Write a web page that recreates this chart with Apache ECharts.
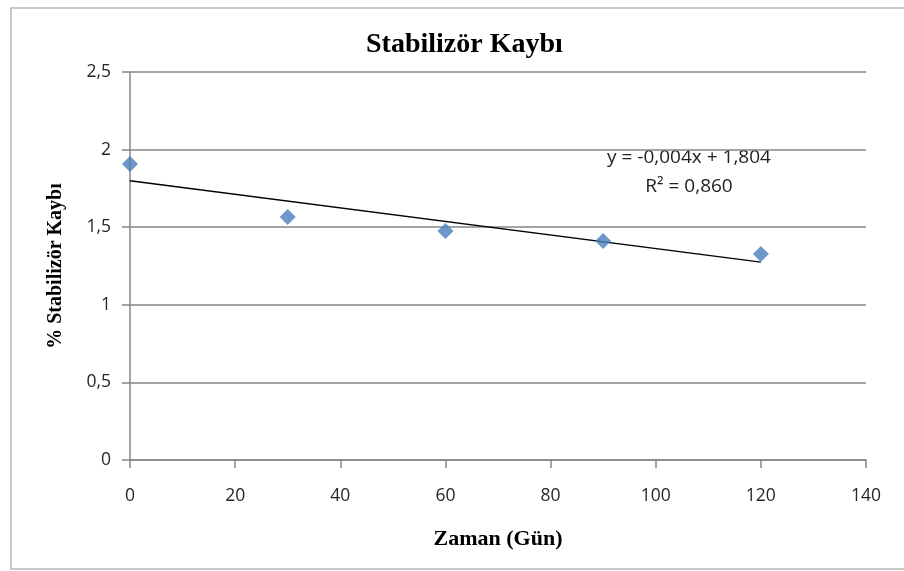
<!DOCTYPE html>
<html>
<head>
<meta charset="utf-8">
<script src="https://cdn.jsdelivr.net/npm/echarts@6/dist/echarts.min.js"></script>
<style>
html,body{margin:0;padding:0;background:#fff;}
#c{width:904px;height:571px;}
</style>
</head>
<body>
<div id="c"></div>
<script>
// Data
const days = [0, 30, 60, 90, 120];
const loss = [1.907, 1.566, 1.475, 1.411, 1.327];
// Trend line end points as drawn in the picture
const trendDays = [0, 120];
const trendLoss = [1.80, 1.275];
const xTicks = [0, 20, 40, 60, 80, 100, 120, 140];
const yTicks = [0, 0.5, 1, 1.5, 2, 2.5];
const titleText = 'Stabilizör Kaybı';
const xName = 'Zaman (Gün)';
const yName = '% Stabilizör Kaybı';
const equationLines = ['y = -0,004x + 1,804', 'R² = 0,860'];

const chart = echarts.init(document.getElementById('c'), null, {renderer: 'canvas'});
const axisGray = '#868686';
const labelColor = '#262626';
chart.setOption({
  animation: false,
  backgroundColor: '#fff',
  title: {
    text: titleText, left: 361, top: 26,
    textStyle: {fontFamily: 'Liberation Serif', fontWeight: 'bold', fontSize: 28, color: '#000'}
  },
  grid: {left: 130, right: 38, top: 72, bottom: 111, containLabel: false},
  xAxis: {
    type: 'value', min: xTicks[0], max: xTicks[xTicks.length - 1], interval: xTicks[1] - xTicks[0],
    name: xName, nameLocation: 'middle', nameGap: 68,
    nameTextStyle: {fontFamily: 'Liberation Serif', fontWeight: 'bold', fontSize: 22, color: '#000'},
    axisLine: {show: true, lineStyle: {color: axisGray, width: 1.5}},
    axisTick: {show: true, inside: false, length: 8, lineStyle: {color: axisGray, width: 1.5}},
    axisLabel: {margin: 27, color: labelColor, fontFamily: 'Open Sans', fontSize: 17.5},
    splitLine: {show: false}
  },
  yAxis: {
    type: 'value', min: yTicks[0], max: yTicks[yTicks.length - 1], interval: yTicks[1] - yTicks[0],
    name: yName, nameLocation: 'middle', nameGap: 64, nameRotate: 90,
    nameTextStyle: {fontFamily: 'Liberation Serif', fontWeight: 'bold', fontSize: 20, color: '#000'},
    axisLine: {show: true, lineStyle: {color: axisGray, width: 1.5}},
    axisTick: {show: true, inside: false, length: 8, lineStyle: {color: axisGray, width: 1.5}},
    axisLabel: {margin: 19, color: labelColor, fontFamily: 'Open Sans', fontSize: 17.5,
      formatter: v => String(v).replace('.', ',')},
    splitLine: {show: true, lineStyle: {color: axisGray, width: 1.5}}
  },
  series: [
    {
      type: 'line', name: 'trend',
      data: trendDays.map((d, i) => [d, trendLoss[i]]),
      showSymbol: false, symbol: 'none',
      lineStyle: {color: '#000', width: 1.5}, z: 2
    },
    {
      type: 'scatter', name: 'loss',
      data: days.map((d, i) => [d, loss[i]]),
      symbol: 'diamond', symbolSize: 16,
      itemStyle: {color: '#4a7ebb'}, z: 3
    }
  ],
  graphic: [
    {type: 'rect', shape: {x: 11, y: 8, width: 1000, height: 561}, style: {fill: 'none', stroke: '#b8b8b8', lineWidth: 1.5}, silent: true},
    {type: 'text', x: 689, y: 158, style: {text: equationLines[0], fontFamily: 'Open Sans', fontSize: 19, fill: '#222', align: 'center', verticalAlign: 'middle'}},
    {type: 'text', x: 689, y: 187, style: {text: equationLines[1], fontFamily: 'Open Sans', fontSize: 19, fill: '#222', align: 'center', verticalAlign: 'middle'}}
  ]
});
</script>
</body>
</html>
